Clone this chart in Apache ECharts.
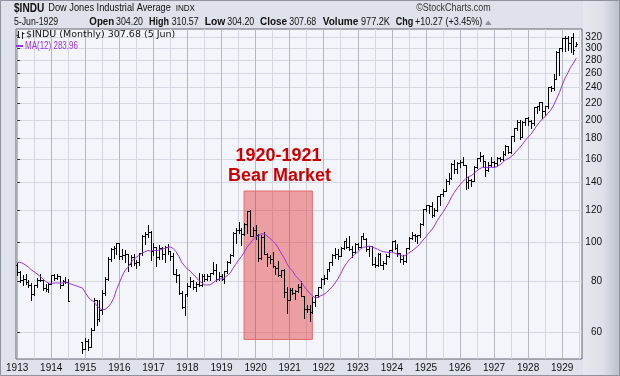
<!DOCTYPE html>
<html>
<head>
<meta charset="utf-8">
<title>$INDU Dow Jones Industrial Average (Monthly) 1913-1929</title>
<script src="https://cdn.jsdelivr.net/npm/echarts@6.0.0/dist/echarts.min.js"></script>
<style>
  html, body { margin: 0; padding: 0; background: #dfe2ea; }
  #chart { width: 620px; height: 376px; }
</style>
</head>
<body>
<div id="chart"></div>
<script>
// monthly bars Jan 1913 .. Jun 1929, null = exchange closed (Aug-Nov 1914)
const firstYear = 1913;

const opens = [
  87.9, 84.5, 80.5, 81.0, 79.8, 78.4, 74.5, 78.2, 80.5, 80.6, 77.2, 76.5,
  78.8, 82.9, 81.5, 82.2, 78.5, 80.1, 79.6, null, null, null, null, 56.8,
  54.6, 57.0, 55.0, 60.8, 71.8, 64.5, 67.9, 74.9, 81.2, 90.6, 96.0, 96.7,
  99.2, 92.5, 92.8, 93.3, 88.2, 91.6, 88.9, 89.1, 93.8, 103.7, 104.6, 105.9,
  95.0, 97.0, 91.6, 96.7, 93.2, 97.2, 94.8, 92.5, 83.4, 82.7, 75.0, 69.1,
  74.4, 78.0, 80.1, 77.5, 78.8, 78.1, 82.6, 81.0, 82.5, 83.8, 85.5, 81.1,
  82.2, 81.0, 84.8, 89.1, 93.0, 105.5, 106.9, 107.2, 104.7, 111.0, 118.9, 103.6,
  107.2, 104.0, 91.2, 102.8, 93.5, 91.8, 90.8, 87.1, 86.2, 82.9, 85.2, 75.4,
  72.0, 76.1, 74.9, 75.8, 77.3, 73.4, 68.5, 68.4, 67.1, 71.1, 73.9, 77.3,
  81.1, 81.3, 85.8, 89.0, 92.9, 93.4, 92.4, 96.8, 100.8, 97.0, 96.1, 94.6,
  98.7, 97.0, 103.6, 101.4, 95.9, 97.7, 88.4, 87.6, 93.5, 87.9, 88.5, 92.3,
  95.5, 100.7, 96.6, 93.8, 90.6, 89.9, 96.4, 102.1, 104.3, 103.2, 104.1, 110.9,
  120.5, 123.2, 122.6, 116.8, 120.0, 129.9, 131.0, 133.8, 141.2, 143.5, 155.6, 151.1,
  156.7, 157.4, 154.7, 140.5, 142.4, 141.3, 152.9, 160.6, 162.5, 158.2, 150.7, 155.1,
  157.2, 156.6, 161.1, 160.1, 164.6, 172.0, 166.2, 182.6, 190.6, 197.6, 181.7, 197.9,
  202.4, 198.6, 196.0, 214.5, 216.9, 220.9, 210.4, 216.6, 240.4, 239.4, 252.2, 293.4,
  300.0, 317.5, 317.4, 308.5, 319.3, 304.2
];

const highs = [
  88.6, 85.0, 83.0, 83.2, 80.5, 79.0, 78.5, 81.5, 83.4, 81.2, 78.9, 79.0,
  83.0, 83.2, 83.4, 82.5, 80.6, 81.8, 81.0, null, null, null, null, 56.8,
  58.0, 57.8, 61.5, 72.6, 71.9, 72.0, 76.0, 82.0, 92.0, 96.5, 98.0, 99.2,
  99.2, 96.2, 95.5, 93.6, 92.6, 93.6, 90.5, 93.8, 104.0, 105.7, 110.2, 106.5,
  99.2, 97.0, 98.2, 97.0, 97.6, 99.1, 95.2, 93.9, 86.0, 83.5, 75.5, 74.6,
  79.0, 82.1, 80.4, 79.7, 84.0, 83.4, 83.4, 83.2, 84.0, 89.1, 88.1, 84.5,
  83.5, 85.0, 90.0, 93.5, 106.0, 108.0, 112.2, 108.2, 111.5, 119.0, 119.6, 108.9,
  109.9, 104.5, 104.2, 105.7, 94.0, 93.0, 94.5, 87.3, 89.9, 85.5, 85.8, 77.6,
  76.8, 77.1, 76.0, 78.9, 80.0, 73.5, 69.9, 69.9, 73.0, 73.9, 77.3, 81.5,
  82.9, 85.8, 89.1, 93.5, 96.4, 96.0, 97.0, 100.8, 102.1, 103.4, 97.7, 99.2,
  99.4, 103.6, 105.4, 102.5, 98.0, 97.7, 92.0, 93.7, 93.9, 89.5, 93.2, 95.6,
  100.7, 101.3, 98.9, 94.0, 93.0, 96.5, 103.0, 105.6, 104.9, 104.0, 111.4, 120.5,
  123.6, 123.3, 125.7, 121.2, 129.9, 131.0, 135.0, 143.0, 147.7, 156.9, 159.4, 157.0,
  158.9, 162.3, 155.0, 144.8, 143.0, 154.0, 160.6, 166.6, 164.0, 158.3, 157.2, 161.9,
  158.2, 161.9, 162.1, 167.4, 173.0, 172.1, 182.6, 190.6, 199.8, 199.8, 198.2, 202.4,
  203.4, 199.4, 214.5, 216.9, 220.9, 221.0, 216.6, 240.4, 241.7, 259.2, 295.6, 300.0,
  317.5, 322.1, 321.2, 319.3, 327.1, 310.6
];

const lows = [
  83.0, 79.6, 78.3, 78.8, 77.3, 72.1, 74.0, 77.6, 79.9, 76.0, 75.8, 75.3,
  78.6, 80.5, 80.9, 76.9, 78.3, 79.0, 71.4, null, null, null, null, 53.2,
  54.4, 54.2, 55.0, 60.5, 62.5, 64.0, 66.5, 73.9, 80.4, 89.5, 91.5, 93.5,
  90.6, 90.9, 89.3, 85.0, 87.2, 87.7, 86.4, 87.9, 93.0, 99.0, 103.0, 90.2,
  93.0, 87.0, 91.0, 90.7, 89.1, 93.5, 90.5, 83.4, 79.5, 74.5, 68.6, 65.9,
  73.4, 77.5, 76.4, 75.6, 78.0, 77.9, 80.3, 80.7, 80.5, 83.4, 79.9, 80.4,
  80.4, 79.2, 84.0, 88.5, 92.5, 99.6, 105.0, 98.5, 104.0, 105.0, 103.6, 103.5,
  101.9, 90.0, 91.0, 93.2, 87.4, 88.6, 86.8, 83.2, 82.5, 82.0, 73.1, 66.8,
  72.0, 74.3, 72.3, 75.2, 73.4, 64.9, 67.3, 63.9, 66.8, 69.5, 73.1, 77.0,
  78.6, 81.0, 84.8, 87.5, 91.5, 90.7, 92.2, 96.0, 96.6, 95.5, 92.0, 94.0,
  96.0, 96.5, 101.4, 95.0, 92.5, 87.9, 86.9, 87.2, 87.9, 85.8, 88.0, 92.0,
  94.9, 96.3, 92.3, 89.2, 88.3, 89.2, 96.0, 101.5, 100.8, 99.2, 103.0, 110.4,
  119.5, 117.9, 115.0, 116.0, 119.5, 123.5, 129.5, 133.5, 138.9, 143.0, 148.2, 148.0,
  153.2, 154.7, 135.2, 136.2, 137.2, 141.0, 152.0, 158.0, 152.8, 145.7, 150.0, 154.0,
  152.7, 154.5, 158.0, 159.5, 163.5, 165.7, 165.8, 177.1, 189.0, 179.8, 181.0, 194.0,
  194.5, 191.3, 194.5, 207.9, 211.7, 202.0, 205.1, 214.0, 235.0, 236.4, 252.0, 257.3,
  296.0, 295.9, 296.5, 294.3, 291.0, 304.2
];

const closes = [
  84.5, 80.5, 81.0, 79.8, 78.4, 74.5, 78.2, 80.5, 80.6, 77.2, 76.5, 78.8,
  82.9, 81.5, 82.2, 78.5, 80.1, 79.6, 71.4, null, null, null, null, 54.6,
  57.0, 55.0, 60.8, 71.8, 64.5, 67.9, 74.9, 81.2, 90.6, 96.0, 96.7, 99.2,
  92.5, 92.8, 93.3, 88.2, 91.6, 88.9, 89.1, 93.8, 103.7, 104.6, 105.9, 95.0,
  97.0, 91.6, 96.7, 93.2, 97.2, 94.8, 92.5, 83.4, 82.7, 75.0, 69.1, 74.4,
  78.0, 80.1, 77.5, 78.8, 78.1, 82.6, 81.0, 82.5, 83.8, 85.5, 81.1, 82.2,
  81.0, 84.8, 89.1, 93.0, 105.5, 106.9, 107.2, 104.7, 111.0, 118.9, 103.6, 107.2,
  104.0, 91.2, 102.8, 93.5, 91.8, 90.8, 87.1, 86.2, 82.9, 85.2, 75.4, 72.0,
  76.1, 74.9, 75.8, 77.3, 73.4, 68.5, 68.4, 67.1, 71.1, 73.9, 77.3, 81.1,
  81.3, 85.8, 89.0, 92.9, 93.4, 92.4, 96.8, 100.8, 97.0, 96.1, 94.6, 98.7,
  97.0, 103.6, 101.4, 95.9, 97.7, 88.4, 87.6, 93.5, 87.9, 88.5, 92.3, 95.5,
  100.7, 96.6, 93.8, 90.6, 89.9, 96.4, 102.1, 104.3, 103.2, 104.1, 110.9, 120.5,
  123.2, 122.6, 116.8, 120.0, 129.9, 131.0, 133.8, 141.2, 143.5, 155.6, 151.1, 156.7,
  157.4, 154.7, 140.5, 142.4, 141.3, 152.9, 160.6, 162.5, 158.2, 150.7, 155.1, 157.2,
  156.6, 161.1, 160.1, 164.6, 172.0, 166.2, 182.6, 190.6, 197.6, 181.7, 197.9, 202.4,
  198.6, 196.0, 214.5, 216.9, 220.9, 210.4, 216.6, 240.4, 239.4, 252.2, 293.4, 300.0,
  317.5, 317.4, 308.5, 319.3, 297.4, 307.7
];

// Feb-Dec 1912 closes, only used to seed the 12 month average
const leadCloses = [81.4, 87.0, 90.5, 90.7, 90.3, 89.4, 91.9, 94.1, 91.8, 90.2, 87.9];

const yTicks = [60, 80, 100, 120, 140, 160, 180, 200, 220, 240, 260, 280, 300, 320];
const yRange = [51.46, 334.9];
const monthRange = [-0.4, 199];
const bearMonths = [79.95, 104];   // Aug 1919 .. Aug 1921
const bearPrices = [57.5, 133.5];

const yearTicks = [];
const halfYearTicks = [];
for (let m = 0; m <= 198; m += 6) {
  halfYearTicks.push(m);
  if (m % 12 === 0) yearTicks.push(m);
}

// log price scale: values go to the axis as ln(price)
const barData = [];
closes.forEach((c, i) => {
  if (c == null) return;
  barData.push([i, Math.log(opens[i]), Math.log(highs[i]), Math.log(lows[i]), Math.log(c)]);
});

const maData = [];
const last12 = leadCloses.slice();
closes.forEach((c, i) => {
  if (c == null) return;
  last12.push(c);
  if (last12.length > 12) last12.shift();
  const avg = last12.reduce((a, b) => a + b, 0) / last12.length;
  maData.push([i, Math.log(avg)]);
});

function renderBar(params, api) {
  const x0 = api.value(0);
  const o = api.coord([x0, api.value(1)]);
  const h = api.coord([x0, api.value(2)]);
  const l = api.coord([x0, api.value(3)]);
  const c = api.coord([x0, api.value(4)]);
  const x = Math.round(o[0]) + 0.5;
  const st = { stroke: "#000", lineWidth: 1 };
  const oy = Math.round(o[1]) + 0.5;
  const cy = Math.round(c[1]) + 0.5;
  return {
    type: "group",
    children: [
      { type: "line", shape: { x1: x, y1: Math.round(h[1]), x2: x, y2: Math.round(l[1]) + 1 }, style: st },
      { type: "line", shape: { x1: x - 1.5, y1: oy, x2: x, y2: oy }, style: st },
      { type: "line", shape: { x1: x, y1: cy, x2: x + 1.5, y2: cy }, style: st },
    ],
  };
}

function txt(x, y, text, font, sx, fill, align) {
  return {
    type: "text",
    x: x,
    y: y,
    scaleX: sx,
    z: 50,
    silent: true,
    style: {
      text: text,
      font: font,
      fill: fill || "#111",
      align: align || "left",
      textAlign: align || "left",
      verticalAlign: "middle",
      textVerticalAlign: "middle",
    },
  };
}

const LS = '"Liberation Sans", Arial, sans-serif';
const purple = "#9a33e6";

const chart = echarts.init(document.getElementById("chart"));

chart.setOption({
  animation: false,
  backgroundColor: "#dfe2ea",
  grid: {
    left: 16,
    right: 38,
    top: 29,
    bottom: 17,
    show: true,
    backgroundColor: "#f4f5fa",
    borderColor: "#60646c",
    borderWidth: 1,
  },
  xAxis: [
    {
      type: "value",
      min: monthRange[0],
      max: monthRange[1],
      axisLine: { show: false },
      axisTick: { show: false, customValues: halfYearTicks },
      axisLabel: {
        customValues: yearTicks,
        formatter: (v) => String(firstYear + Math.round(v / 12)),
        margin: 4,
        color: "#111",
        fontSize: 10,
        fontFamily: LS,
      },
      splitLine: { show: true, lineStyle: { color: "#d5d8e0", width: 1 } },
    },
    {
      type: "value",
      position: "bottom",
      min: monthRange[0],
      max: monthRange[1],
      axisLine: { show: false },
      axisTick: { show: false, customValues: yearTicks },
      axisLabel: { show: false },
      splitLine: { show: true, lineStyle: { color: "#b4b8c1", width: 1 } },
    },
  ],
  yAxis: {
    type: "value",
    position: "right",
    min: Math.log(yRange[0]),
    max: Math.log(yRange[1]),
    axisLine: { show: false },
    axisTick: {
      show: true,
      inside: false,
      length: 3,
      customValues: yTicks.map(Math.log),
      lineStyle: { color: "#333" },
    },
    axisLabel: {
      customValues: yTicks.map(Math.log),
      formatter: (v) => String(Math.round(Math.exp(v))),
      align: "right",
      margin: 20,
      color: "#111",
      fontSize: 10,
      fontFamily: LS,
    },
    splitLine: { show: true, lineStyle: { color: "#d5d8e0", width: 1 } },
  },
  series: [
    {
      name: "$INDU",
      type: "custom",
      renderItem: renderBar,
      encode: { x: 0, y: [1, 2, 3, 4] },
      data: barData,
      clip: true,
      silent: true,
      z: 2,
    },
    {
      name: "MA(12)",
      type: "line",
      data: maData,
      symbol: "none",
      lineStyle: { color: purple, width: 1 },
      silent: true,
      z: 3,
    },
    {
      name: "bear",
      type: "line",
      data: [],
      silent: true,
      z: 4,
      markArea: {
        silent: true,
        itemStyle: { color: "rgba(222,40,40,0.42)", borderColor: "#e06a6a", borderWidth: 1 },
        data: [
          [
            { xAxis: bearMonths[0], yAxis: Math.log(bearPrices[1]) },
            { xAxis: bearMonths[1], yAxis: Math.log(bearPrices[0]) },
          ],
        ],
      },
    },
  ],
  graphic: [
    {
      type: "rect",
      z: -5,
      silent: true,
      shape: { x: 583, y: 0, width: 37, height: 376 },
      style: {
        fill: new echarts.graphic.LinearGradient(0, 0, 1, 0, [
          { offset: 0, color: "#e6e8ef" },
          { offset: 0.55, color: "#dde0e8" },
          { offset: 1, color: "#b9bec9" },
        ]),
      },
    },
    {
      type: "rect",
      z: 60,
      silent: true,
      shape: { x: 0.5, y: 0.5, width: 619, height: 375 },
      style: { fill: "none", stroke: "#8e939d", lineWidth: 1 },
    },
    // header
    txt(14, 8.5, "$INDU", "bold 12px " + LS, 0.84),
    txt(48.3, 8.5, "Dow Jones Industrial Average", "10.5px " + LS, 0.88),
    txt(175.7, 8.5, "INDX", "9.5px " + LS, 0.85),
    txt(490.7, 8.5, "\u00a9StockCharts.com", "10.5px " + LS, 0.85, "#333", "right"),
    txt(14, 22.2, "5-Jun-1929", "10.5px " + LS, 0.83),
    txt(89.3, 22.2, "Open", "bold 10.5px " + LS, 0.93),
    txt(116, 22.2, "304.20", "10.5px " + LS, 0.84),
    txt(149, 22.2, "High", "bold 10.5px " + LS, 0.86),
    txt(171.7, 22.2, "310.57", "10.5px " + LS, 0.84),
    txt(204.7, 22.2, "Low", "bold 10.5px " + LS, 0.98),
    txt(227.3, 22.2, "304.20", "10.5px " + LS, 0.84),
    txt(260, 22.2, "Close", "bold 10.5px " + LS, 0.95),
    txt(289.3, 22.2, "307.68", "10.5px " + LS, 0.84),
    txt(322.7, 22.2, "Volume", "bold 10.5px " + LS, 0.96),
    txt(361, 22.2, "977.2K", "10.5px " + LS, 0.87),
    txt(395.7, 22.2, "Chg", "bold 10.5px " + LS, 0.86),
    txt(415, 22.2, "+10.27 (+3.45%)", "10.5px " + LS, 0.86),
    {
      type: "polygon",
      z: 50,
      silent: true,
      shape: { points: [[485, 25], [491.5, 25], [488.25, 20.5]] },
      style: { fill: "#8c919b" },
    },
    // in-plot legend
    { type: "line", z: 50, silent: true, shape: { x1: 18.5, y1: 31, x2: 18.5, y2: 38 }, style: { stroke: "#222", lineWidth: 1 } },
    { type: "line", z: 50, silent: true, shape: { x1: 16.5, y1: 35.5, x2: 18.5, y2: 35.5 }, style: { stroke: "#222", lineWidth: 1 } },
    { type: "line", z: 50, silent: true, shape: { x1: 22.5, y1: 32, x2: 22.5, y2: 39 }, style: { stroke: "#222", lineWidth: 1 } },
    { type: "line", z: 50, silent: true, shape: { x1: 22.5, y1: 33.5, x2: 24.5, y2: 33.5 }, style: { stroke: "#222", lineWidth: 1 } },
    txt(26, 35, "$INDU (Monthly) 307.68 (5 Jun)", '9.5px "DejaVu Sans", sans-serif', 1, "#111"),
    { type: "rect", z: 50, silent: true, shape: { x: 16, y: 45, width: 7, height: 2 }, style: { fill: purple } },
    txt(25, 46.3, "MA(12) 283.96", "10px " + LS, 0.8, purple),
    // annotation
    txt(278.5, 156.3, "1920-1921", "bold 18px " + LS, 1, "#cc0000", "center"),
    txt(279.5, 176.3, "Bear Market", "bold 18px " + LS, 1, "#cc0000", "center"),
  ],
});
</script>
</body>
